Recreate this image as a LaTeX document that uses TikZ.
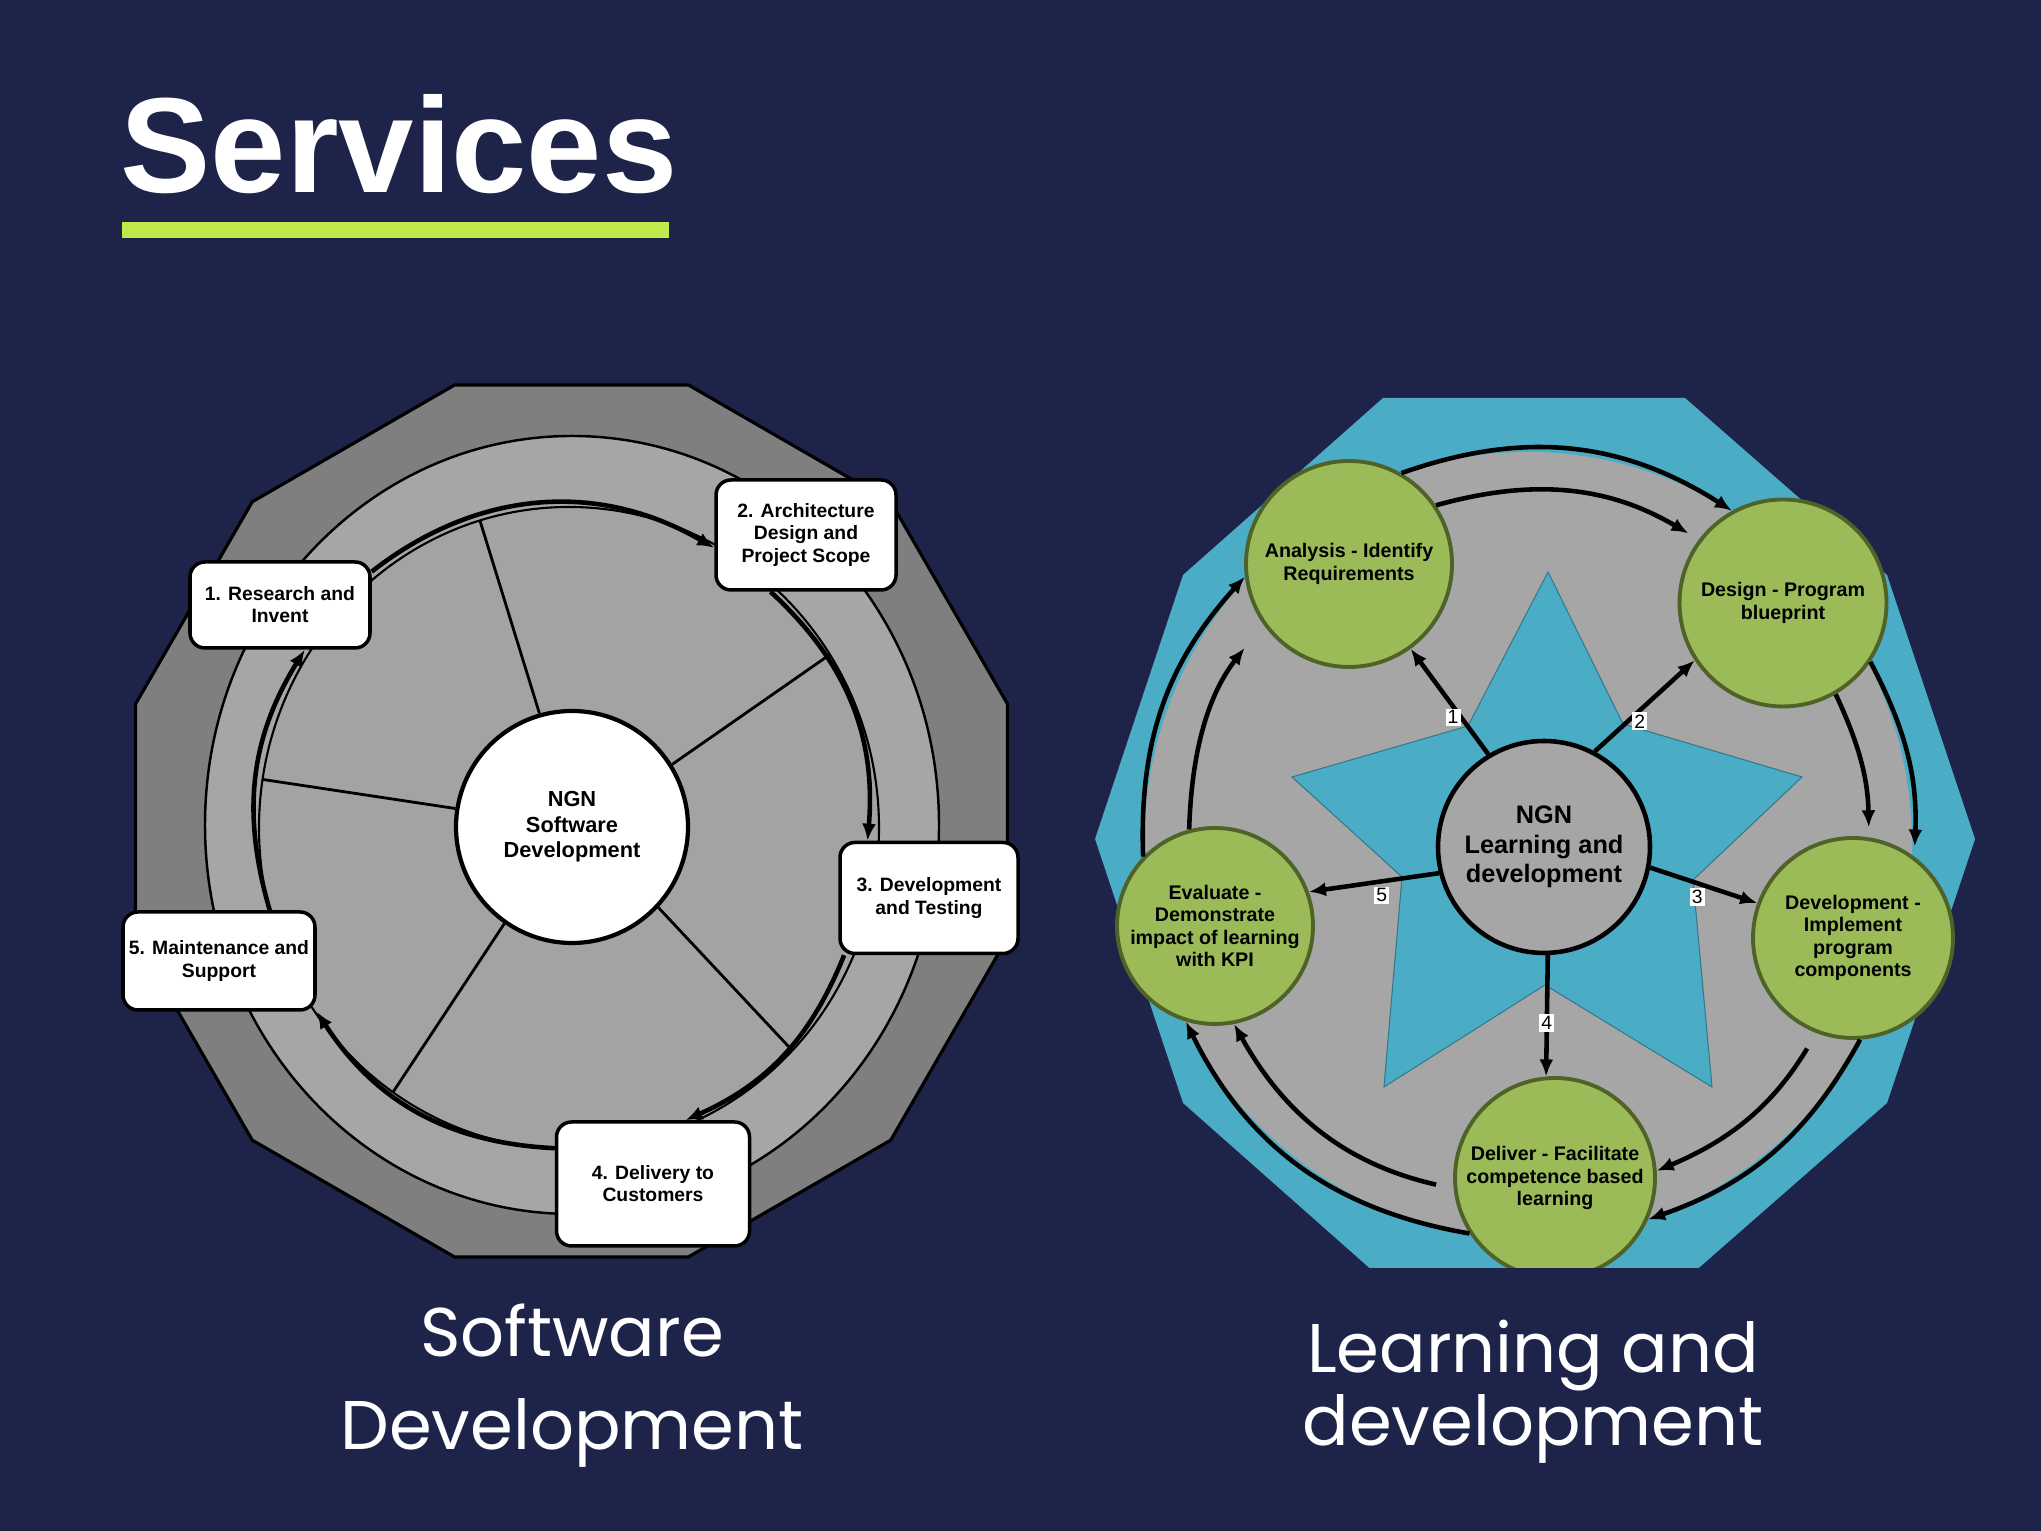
\documentclass[tikz,border=0pt]{standalone}
\usepackage{fontspec}
\setmainfont{Liberation Sans}
\newfontfamily\captionfont{Poppins}
\usetikzlibrary{arrows.meta}
\definecolor{NgnNavy}{HTML}{1E2349}
\definecolor{NgnLime}{HTML}{BCEB4A}
\definecolor{NgnDarkGray}{HTML}{7F7F7F}
\definecolor{NgnGray}{HTML}{A6A6A6}
\definecolor{NgnInnerGray}{HTML}{A3A3A3}
\definecolor{NgnCyan}{HTML}{4BACC6}
\definecolor{NgnGreen}{HTML}{9BBB59}
\definecolor{NgnOlive}{HTML}{4F6228}

\begin{document}
\begin{tikzpicture}[
    stage/.style={rounded corners=1.5mm,draw,line width=1pt,fill=white,align=center,inner sep=1pt,font=\fontsize{5.5}{6.3}\selectfont\bfseries},
    phase/.style={circle,draw=NgnOlive,line width=1.1pt,fill=NgnGreen,align=center,inner sep=0pt,font=\fontsize{5.6}{6.4}\selectfont\bfseries},
    hub/.style={circle,draw,line width=1.2pt,align=center,inner sep=0pt},
    arr/.style={-{Latex[length=1.7mm,width=1.4mm]},line width=1.3pt},
    num/.style={fill=white,inner sep=0.6pt,font=\fontsize{5.5}{6}\selectfont},
    caption/.style={text=white,align=center,anchor=base}
  ]
  \fill[NgnNavy] (0,0) rectangle (20.41,15.31);
  \useasboundingbox (0,0) rectangle (20.41,15.31);

  \node[anchor=base west,inner sep=0,text=white,font=\fontsize{38.5}{40}\selectfont\bfseries] (title) at (1.20,13.38) {Services};
  \fill[NgnLime] (1.22,12.93) rectangle (6.69,13.09);

  % software development wheel
  \filldraw[fill=NgnDarkGray,line width=0.9pt,shift={(5.715,7.10)}] (15:4.514) \foreach \a in {45,75,...,345} { -- (\a:4.514) } -- cycle;
  \filldraw[fill=NgnGray,line width=0.7pt] (5.72,7.06) ellipse [x radius=3.67,y radius=3.89];
  \filldraw[fill=NgnInnerGray,line width=0.6pt] (5.69,7.03) ellipse [x radius=3.10,y radius=3.21];
  \node[hub,fill=white,minimum size=2.32cm,font=\fontsize{6.2}{7.3}\selectfont\bfseries] (ngn1) at (5.72,7.04) {NGN\\Software\\Development};
  \foreach \a in {106.7,32.7,-43.9,235.4,171.3}
    \draw[line width=0.8pt] (ngn1.\a) -- ([shift={(5.69,7.03)}]\a:3.10 and 3.21);

  \node[stage,minimum width=1.80cm,minimum height=0.86cm] (s1) at (2.80,9.26) {1. Research and\\Invent};
  \node[stage,minimum width=1.80cm,minimum height=1.10cm] (s2) at (8.06,9.96) {2. Architecture\\Design and\\Project Scope};
  \node[stage,minimum width=1.78cm,minimum height=1.11cm] (s3) at (9.29,6.33) {3. Development\\and Testing};
  \node[stage,minimum width=1.93cm,minimum height=1.24cm] (s4) at (6.53,3.47) {4. Delivery to\\Customers};
  \node[stage,minimum width=1.92cm,minimum height=0.98cm] (s5) at (2.19,5.70) {5. Maintenance and\\Support};

  \draw[arr] (s1.20) to[bend left=34] (s2.188);
  \draw[arr] (s2.238) to[bend left=26] (s3.137);
  \draw[arr] (s3.214) to[bend left=22] (s4.63);
  \draw[arr] (s4.160) to[bend left=27] (s5.south east);
  \draw[arr] (s5.45) to[bend left=24] (s1.-61);

  % learning and development star
  \begin{scope}
    \clip (10,2.63) rectangle (20.41,12);
    \fill[NgnCyan] (10.95,6.92) -- (11.83,9.56) -- (13.83,11.33) -- (16.85,11.33) -- (18.87,9.56) -- (19.75,6.92) -- (18.87,4.28) -- (16.85,2.51) -- (13.83,2.51) -- (11.83,4.28) -- cycle;
    \fill[NgnGray] (15.28,6.86) ellipse [x radius=3.84,y radius=3.93];
    \filldraw[fill=NgnCyan,draw=NgnCyan!70!black,line width=0.3pt] (15.48,9.59) -- (16.23,8.07) -- (18.02,7.54) -- (16.93,6.51) -- (17.12,4.44) -- (15.45,5.46) -- (13.84,4.44) -- (14.02,6.54) -- (12.92,7.54) -- (14.68,8.05) -- cycle;

    \node[hub,fill=NgnGray,line width=1.3pt,minimum size=2.12cm,font=\fontsize{7.2}{8.4}\selectfont\bfseries] (ngn2) at (15.44,6.84) {NGN\\Learning and\\development};
    \node[phase,minimum size=2.06cm] (ana) at (13.49,9.67) {Analysis - Identify\\Requirements};
    \node[phase,minimum size=2.07cm] (des) at (17.83,9.28) {Design - Program\\blueprint};
    \node[phase,minimum size=2.00cm] (dev) at (18.53,5.93) {Development -\\Implement\\program\\components};
    \node[phase,minimum size=2.00cm] (del) at (15.55,3.53) {Deliver - Facilitate\\competence based\\learning};
    \node[phase,minimum size=1.96cm] (eva) at (12.15,6.05) {Evaluate -\\Demonstrate\\impact of learning\\with KPI};

    \draw[arr] (ngn2.121) -- node[num,pos=.35,xshift=-0.8mm]{1} (ana.-54);
    \draw[arr] (ngn2.62) -- node[num,pos=.33,xshift=1.2mm]{2} (des.213);
    \draw[arr] (ngn2.-11) -- node[num,pos=.44,yshift=-1.4mm]{3} (dev.160);
    \draw[arr] (ngn2.-88) -- node[num,pos=.56]{4} (del.95);
    \draw[arr] (ngn2.194) -- node[num,pos=.44,yshift=-1.4mm]{5} (eva.20);

    \draw[arr] (ana.60) to[bend left=26] (des.119);
    \draw[arr,shorten >=1mm] (des.-34) to[bend left=15] (dev.53);
    \draw[arr] (dev.-86) to[bend left=21] (del.-24);
    \draw[arr] (del.213) to[bend left=27] (eva.253);
    \draw[arr] (eva.136) to[bend left=22] (ana.187);

    \draw[arr,shorten >=1.2mm] (ana.34) to[bend left=23] (des.143);
    \draw[arr,shorten >=1mm] (des.-60) to[bend left=12] (dev.81);
    \draw[arr,shorten <=1.8mm] (dev.249) to[bend left=18] (del.4);
    \draw[arr,shorten <=1.8mm] (del.186) to[bend left=24] (eva.-79);
    \draw[arr,shorten >=3mm] (eva.105) to[bend left=18] (ana.215);
  \end{scope}

  \node[caption,font=\captionfont\fontsize{19.6}{26.7}\selectfont] (capsoft) at (5.72,0.81) {Software\\Development};
  \node[caption,font=\captionfont\fontsize{19.6}{18.2}\selectfont] (caplearn) at (15.33,0.85) {Learning and\\development};
\end{tikzpicture}
\end{document}
